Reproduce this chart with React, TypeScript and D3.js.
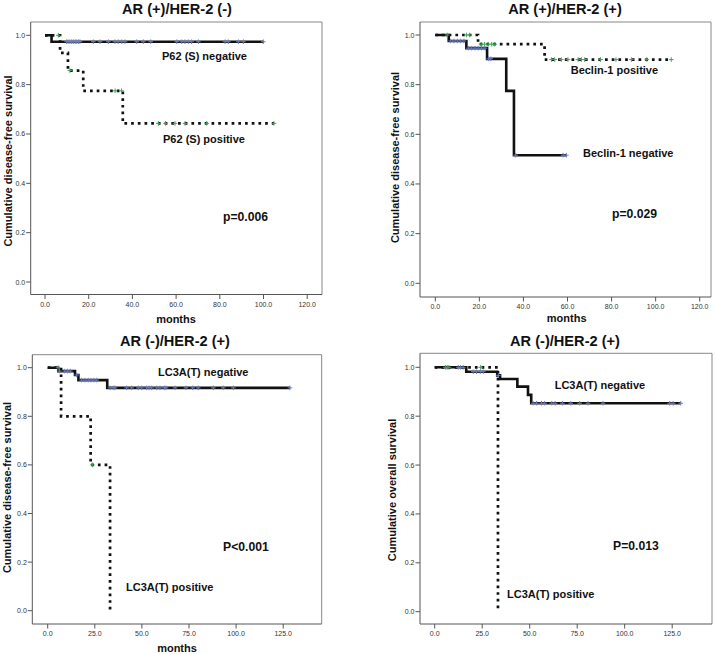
import React from 'react';
import * as d3 from 'd3';

// ---------- tick labels ----------
const yTickValues = [0, 0.2, 0.4, 0.6, 0.8, 1.0];
const topXTickValues = [0, 20, 40, 60, 80, 100, 120];
const bottomXTickValues = [0, 25, 50, 75, 100, 125];

// ---------- Panel 1: AR (+)/HER-2 (-), P62 (S) ----------
const p1NegTimes = [0, 3.0];
const p1NegSurv = [1, 0.974];
const p1NegEnd = 100;
const p1NegCensor = [9.9, 10.6, 11.4, 12.2, 13, 13.8, 14.5, 15.3, 16, 22.1, 25.2, 29, 32, 33.5, 35.1, 36.6, 42, 45, 48.4, 60.3, 62.6, 64.1, 65.6, 67.1, 70.2, 82.4, 83.9, 88.5, 90.8, 99.9];
const p1PosTimes = [0, 6.9, 10.5, 17.5, 35.6];
const p1PosSurv = [1, 0.929, 0.857, 0.775, 0.643];
const p1PosEnd = 104.8;
const p1PosCensor = [6.1, 11.4, 32.1, 35.0, 51.9, 55.2, 59.5, 64.1, 74, 104.8];

// ---------- Panel 2: AR (+)/HER-2 (+), Beclin-1 ----------
const p2NegTimes = [0, 6.1, 14.1, 23.5, 32.2, 35.7];
const p2NegSurv = [1, 0.976, 0.947, 0.904, 0.775, 0.516];
const p2NegEnd = 59.5;
const p2NegCensor = [7.0, 8.5, 10, 11.5, 13, 15, 16.5, 18, 19.5, 21, 22.5, 24.2, 25.2, 36.5, 58.0, 59.5];
const p2PosTimes = [0, 19.4, 49.6];
const p2PosSurv = [1, 0.963, 0.901];
const p2PosEnd = 107.1;
const p2PosCensor = [5.4, 14.1, 15.6, 20.8, 22.4, 24, 25.6, 27.0, 52.7, 54.2, 57.2, 60.2, 64.8, 66.3, 67.8, 75, 82, 89, 96, 107.1];

// ---------- Panel 3: AR (-)/HER-2 (+), LC3A(T), DFS ----------
const p3NegTimes = [0, 5.6, 14.5, 16.3, 31.6];
const p3NegSurv = [1, 0.986, 0.97, 0.949, 0.917];
const p3NegEnd = 128.6;
const p3NegCensor = [6.2, 9, 10.5, 12, 15.4, 18, 19.8, 21.5, 23, 24.5, 26, 33.1, 34.8, 35.7, 41.9, 44.6, 48.1, 49.9, 52.5, 53.8, 55.2, 57.9, 59.6, 61.9, 62.8, 67.6, 73.4, 77.0, 79.9, 87.9, 93.2, 98.5, 128.6];
const p3PosTimes = [0, 7.1, 22.8, 33.1];
const p3PosSurv = [1, 0.8, 0.6, 0];
const p3PosEnd = 33.1;
const p3PosCensor = [5.5, 23.7];

// ---------- Panel 4: AR (-)/HER-2 (+), LC3A(T), OS ----------
const p4NegTimes = [0, 16.6, 32.9, 34.4, 43.5, 49.1, 50.8];
const p4NegSurv = [1, 0.982, 0.967, 0.952, 0.921, 0.887, 0.853];
const p4NegEnd = 129.5;
const p4NegCensor = [12.4, 13.5, 15, 20.3, 22, 24, 25.6, 33.5, 51.8, 53.6, 56.2, 57.9, 61.6, 63.4, 67.2, 71.6, 76.3, 80.7, 88.6, 123.7, 125.5, 129.5];
const p4PosTimes = [0, 33.3];
const p4PosSurv = [1, 0];
const p4PosEnd = 33.3;
const p4PosCensor = [5.6, 6.6, 7.5, 24.2];

type Curve = { times: number[]; surv: number[]; end: number; censor: number[]; dotted: boolean };

const panels = [
  {
    title: 'AR (+)/HER-2 (-)', titleX: 177, titleY: 13.5,
    ylabel: 'Cumulative disease-free survival', ylabelX: 7.5, ylabelY: 161,
    months: { x: 176, y: 322.7 },
    box: [30.7, 322, 22, 294.5], x0: 45, xMaxPx: 307.2, xMax: 120, y0: 282, y1: 35.3,
    xTicks: topXTickValues,
    curves: [
      { times: p1PosTimes, surv: p1PosSurv, end: p1PosEnd, censor: p1PosCensor, dotted: true },
      { times: p1NegTimes, surv: p1NegSurv, end: p1NegEnd, censor: p1NegCensor, dotted: false },
    ] as Curve[],
    labels: [
      { text: 'P62 (S) negative', x: 162, y: 60, size: 11 },
      { text: 'P62 (S) positive', x: 163, y: 143, size: 11 },
      { text: 'p=0.006', x: 223, y: 221, size: 12.2 },
    ],
  },
  {
    title: 'AR (+)/HER-2 (+)', titleX: 565, titleY: 13.5,
    ylabel: 'Cumulative disease-free survival', ylabelX: 394.7, ylabelY: 157.5,
    months: { x: 566.7, y: 321.7 },
    box: [420, 711, 22, 297], x0: 435.3, xMaxPx: 699.7, xMax: 120, y0: 283.3, y1: 35,
    xTicks: topXTickValues,
    curves: [
      { times: p2PosTimes, surv: p2PosSurv, end: p2PosEnd, censor: p2PosCensor, dotted: true },
      { times: p2NegTimes, surv: p2NegSurv, end: p2NegEnd, censor: p2NegCensor, dotted: false },
    ] as Curve[],
    labels: [
      { text: 'Beclin-1 positive', x: 570.7, y: 74, size: 11 },
      { text: 'Beclin-1 negative', x: 583, y: 157, size: 11 },
      { text: 'p=0.029', x: 612, y: 218, size: 12.2 },
    ],
  },
  {
    title: 'AR (-)/HER-2 (+)', titleX: 175, titleY: 345.5,
    ylabel: 'Cumulative disease-free survival', ylabelX: 7.2, ylabelY: 487.5,
    months: { x: 177, y: 652 },
    box: [32.3, 321.7, 354.7, 624], x0: 47.7, xMaxPx: 283.2, xMax: 125, y0: 610.7, y1: 367.7,
    xTicks: bottomXTickValues,
    curves: [
      { times: p3PosTimes, surv: p3PosSurv, end: p3PosEnd, censor: p3PosCensor, dotted: true },
      { times: p3NegTimes, surv: p3NegSurv, end: p3NegEnd, censor: p3NegCensor, dotted: false },
    ] as Curve[],
    labels: [
      { text: 'LC3A(T) negative', x: 158, y: 376, size: 11 },
      { text: 'LC3A(T) positive', x: 126, y: 590.7, size: 11 },
      { text: 'P<0.001', x: 223, y: 551, size: 12.2 },
    ],
  },
  {
    title: 'AR (-)/HER-2 (+)', titleX: 565, titleY: 345.5,
    ylabel: 'Cumulative overall survival', ylabelX: 391.8, ylabelY: 490,
    months: null,
    box: [420, 712, 353.3, 624], x0: 434.7, xMaxPx: 672.2, xMax: 125, y0: 611.7, y1: 367.3,
    xTicks: bottomXTickValues,
    curves: [
      { times: p4PosTimes, surv: p4PosSurv, end: p4PosEnd, censor: p4PosCensor, dotted: true },
      { times: p4NegTimes, surv: p4NegSurv, end: p4NegEnd, censor: p4NegCensor, dotted: false },
    ] as Curve[],
    labels: [
      { text: 'LC3A(T) negative', x: 554.7, y: 389.3, size: 11 },
      { text: 'LC3A(T) positive', x: 507, y: 597.7, size: 11 },
      { text: 'P=0.013', x: 613, y: 550, size: 12.2 },
    ],
  },
];

const FONT = '"Liberation Sans", Arial, Helvetica, sans-serif';
const fmt = d3.format('.1f');

function survAt(c: Curve, t: number) {
  let s = c.surv[0];
  for (let i = 0; i < c.times.length; i++) if (c.times[i] <= t) s = c.surv[i];
  return s;
}

function Panel({ p }: { p: (typeof panels)[number] }) {
  const x = d3.scaleLinear().domain([0, p.xMax]).range([p.x0, p.xMaxPx]);
  const y = d3.scaleLinear().domain([0, 1]).range([p.y0, p.y1]);
  const [bx0, bx1, by0, by1] = p.box;
  const line = d3
    .line<[number, number]>()
    .x((d) => x(d[0]))
    .y((d) => y(d[1]))
    .curve(d3.curveStepAfter);
  return (
    <g>
      <text x={p.titleX} y={p.titleY} textAnchor="middle" fontFamily={FONT} fontWeight="bold" fontSize={14.6} fill="#111">
        {p.title}
      </text>
      {/* frame */}
      <line x1={bx0} x2={bx1} y1={by0} y2={by0} stroke="#888" strokeWidth={1} />
      <line x1={bx1} x2={bx1} y1={by0} y2={by1} stroke="#888" strokeWidth={1} />
      <line x1={bx0} x2={bx0} y1={by0} y2={by1} stroke="#555" strokeWidth={1} />
      <line x1={bx0} x2={bx1} y1={by1} y2={by1} stroke="#555" strokeWidth={1} />
      {/* y ticks */}
      {yTickValues.map((v) => (
        <g key={'y' + v}>
          <line x1={bx0 - 4.5} x2={bx0} y1={y(v)} y2={y(v)} stroke="#555" strokeWidth={1} />
          <text x={bx0 - 5.5} y={y(v) + 2.5} textAnchor="end" fontFamily={FONT} fontSize={7} fill="#333">
            {fmt(v)}
          </text>
        </g>
      ))}
      {/* x ticks */}
      {p.xTicks.map((v) => (
        <g key={'x' + v}>
          <line x1={x(v)} x2={x(v)} y1={by1} y2={by1 + 4.5} stroke="#555" strokeWidth={1} />
          <text x={x(v)} y={by1 + 12} textAnchor="middle" fontFamily={FONT} fontSize={7} fill="#333">
            {fmt(v)}
          </text>
        </g>
      ))}
      <text
        transform={`translate(${p.ylabelX},${p.ylabelY}) rotate(-90)`}
        textAnchor="middle"
        dominantBaseline="central"
        fontFamily={FONT}
        fontWeight="bold"
        fontSize={11}
        fill="#111"
      >
        {p.ylabel}
      </text>
      {p.months && (
        <text x={p.months.x} y={p.months.y} textAnchor="middle" fontFamily={FONT} fontWeight="bold" fontSize={11} fill="#111">
          months
        </text>
      )}
      {/* curves */}
      {p.curves.map((c, ci) => {
        const pts: [number, number][] = c.times.map((t, i) => [t, c.surv[i]] as [number, number]);
        pts.push([c.end, c.surv[c.surv.length - 1]]);
        return (
          <path
            key={'c' + ci}
            d={line(pts) || ''}
            fill="none"
            stroke="#111"
            strokeWidth={c.dotted ? 2.7 : 2.6}
            strokeDasharray={c.dotted ? '2.7,4' : undefined}
          />
        );
      })}
      {/* censor marks */}
      {p.curves.map((c, ci) =>
        c.censor.map((t, k) => {
          const cx = x(t);
          const cy = y(survAt(c, t));
          const col = c.dotted ? '#3ea35c' : '#6a7ec4';
          return (
            <g key={'m' + ci + '-' + k}>
              <line x1={cx - 2.3} x2={cx + 2.3} y1={cy} y2={cy} stroke={col} strokeWidth={1} />
              <line x1={cx} x2={cx} y1={cy - 2.3} y2={cy + 2.3} stroke={col} strokeWidth={1} />
            </g>
          );
        })
      )}
      {p.labels.map((l) => (
        <text key={l.text} x={l.x} y={l.y} fontFamily={FONT} fontWeight="bold" fontSize={l.size} fill="#111">
          {l.text}
        </text>
      ))}
    </g>
  );
}

export default function App() {
  return (
    <svg width={716} height={654} style={{ position: 'absolute', left: 0, top: 0, background: '#fff' }}>
      <rect x={0} y={0} width={716} height={654} fill="#fff" />
      {panels.map((p, i) => (
        <Panel key={i} p={p} />
      ))}
    </svg>
  );
}
